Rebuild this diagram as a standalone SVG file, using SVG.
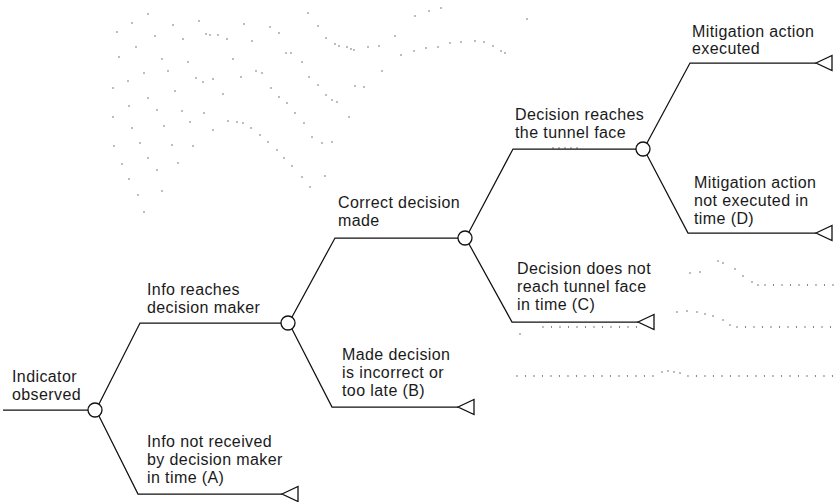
<svg xmlns="http://www.w3.org/2000/svg" width="837" height="502" viewBox="0 0 837 502">
  <style>
    .bg { fill: #ffffff; }
    .edge { fill: none; stroke: #111111; stroke-width: 1.25; stroke-linejoin: miter; }
    .chance { fill: #ffffff; stroke: #111111; stroke-width: 1.3; }
    .end { fill: #ffffff; stroke: #111111; stroke-width: 1.3; stroke-linejoin: miter; }
    .lbl { font-family: "Liberation Sans", Arial, Helvetica, sans-serif; font-size: 16px; letter-spacing: 0.4px; fill: #1a1a1a; }
    .speck { fill: none; stroke: #444444; stroke-width: 1.3; stroke-linecap: round; }
    .row { fill: none; stroke: #444444; stroke-width: 1.3; stroke-linecap: round; stroke-dasharray: 0 8.5; }
  </style>
  <defs>
    <!-- chance node and terminal marker shapes, positioned with <use> -->
    <circle id="chanceShape" cx="0" cy="0" r="7"/>
    <path id="endShape" d="M0 0 L16 -7.5 L16 7.5 Z"/>
  </defs>

  <rect class="bg" x="0" y="0" width="837" height="502"/>

  <!-- faint speckle traces in the paper -->
  <g id="speckle">
    <path class="speck" d="M117 32h0.01M132 23h0.01M148 14h0.01M173 25h0.01M199 21h0.01M206 34h0.01M210 35h0.01M218 35h0.01M227 39h0.01M244 24h0.01M252 41h0.01M270 27h0.01M279 33h0.01M286 53h0.01M291 53h0.01M302 62h0.01M308 13h0.01M318 26h0.01M326 38h0.01M335 44h0.01M339 46h0.01M347 47h0.01M351 49h0.01M354 50h0.01M368 47h0.01M379 46h0.01M395 36h0.01M401 55h0.01M414 51h0.01M415 16h0.01M426 48h0.01M429 11h0.01M438 47h0.01M441 8h0.01M450 43h0.01M461 42h0.01M475 41h0.01M484 42h0.01M493 46h0.01M501 51h0.01M505 53h0.01M527 19h0.01"/>
    <path class="speck" d="M119 57h0.01M136 47h0.01M155 36h0.01M162 59h0.01M183 39h0.01M188 62h0.01M168 71h0.01M144 73h0.01M128 81h0.01M113 88h0.01M148 98h0.01M175 91h0.01M196 78h0.01M203 82h0.01M213 79h0.01M223 94h0.01M233 59h0.01M241 77h0.01M256 71h0.01M262 73h0.01M271 88h0.01M279 97h0.01M287 103h0.01M295 113h0.01M304 123h0.01M312 137h0.01M322 143h0.01M332 142h0.01M309 77h0.01M318 85h0.01M326 95h0.01M332 100h0.01M337 102h0.01M349 117h0.01M355 86h0.01M364 87h0.01M382 71h0.01"/>
    <path class="speck" d="M129 106h0.01M157 110h0.01M182 111h0.01M113 117h0.01M132 128h0.01M164 126h0.01M190 122h0.01M204 113h0.01M213 130h0.01M228 121h0.01M237 122h0.01M243 123h0.01M251 128h0.01M260 135h0.01M268 142h0.01M277 150h0.01M284 158h0.01M292 166h0.01M302 177h0.01M310 187h0.01M325 176h0.01M114 146h0.01M140 143h0.01M172 145h0.01M193 146h0.01M148 158h0.01M178 163h0.01M122 164h0.01M157 170h0.01M129 179h0.01M162 191h0.01M138 195h0.01M144 212h0.01"/>
    <path class="speck" d="M690 273h0.01M700 272h0.01M718 261h0.01M723 263h0.01M735 269h0.01M743 276h0.01M752 282h0.01M758 285h0.01M677 312h0.01M687 311h0.01M697 312h0.01M705 314h0.01M713 316h0.01M723 320h0.01M730 325h0.01M520 334h0.01M553 148h0.01M559 148h0.01M565 148h0.01M571 148h0.01M577 148h0.01M662 372h0.01M668 371h0.01M674 372h0.01M680 373h0.01"/>
    <path class="row" d="M765 285 L837 285"/>
    <path class="row" d="M737 327 L837 327"/>
    <path class="row" d="M543 327 L640 327"/>
    <path class="row" d="M517 376 L655 376"/>
    <path class="row" d="M688 376 L837 376"/>
  </g>

  <!-- connectors -->
  <g id="connectors">
    <path class="edge" d="M3 410 L88 410"/>
    <path class="edge" d="M99 404 L140 323 L281 323"/>
    <path class="edge" d="M99 416 L138 494 L282 494"/>
    <path class="edge" d="M292 317 L335 238 L458 238"/>
    <path class="edge" d="M292 329 L332 407 L458 407"/>
    <path class="edge" d="M469 232 L513 149 L636 149"/>
    <path class="edge" d="M469 244 L512 322 L638 322"/>
    <path class="edge" d="M647 143 L690 63 L816 63"/>
    <path class="edge" d="M647 155 L688 233 L816 233"/>
  </g>

  <!-- start -->
  <g id="indicator-observed">
    <text class="lbl" x="12" y="382">Indicator</text>
    <text class="lbl" x="12" y="400">observed</text>
  </g>

  <!-- chance nodes -->
  <g id="node-indicator"><use href="#chanceShape" class="chance" x="95" y="410"/></g>
  <g id="node-info"><use href="#chanceShape" class="chance" x="288" y="323"/></g>
  <g id="node-decision"><use href="#chanceShape" class="chance" x="465" y="238"/></g>
  <g id="node-face"><use href="#chanceShape" class="chance" x="643" y="149"/></g>

  <!-- branch labels -->
  <g id="info-reaches">
    <text class="lbl" x="147" y="295">Info reaches</text>
    <text class="lbl" x="147" y="313">decision maker</text>
  </g>
  <g id="info-not-received">
    <text class="lbl" x="147" y="447">Info not received</text>
    <text class="lbl" x="147" y="465">by decision maker</text>
    <text class="lbl" x="147" y="483">in time (A)</text>
    <use href="#endShape" class="end" x="282" y="494"/>
  </g>
  <g id="correct-decision">
    <text class="lbl" x="338" y="208">Correct decision</text>
    <text class="lbl" x="338" y="226">made</text>
  </g>
  <g id="incorrect-decision">
    <text class="lbl" x="342" y="360">Made decision</text>
    <text class="lbl" x="342" y="378">is incorrect or</text>
    <text class="lbl" x="342" y="396">too late (B)</text>
    <use href="#endShape" class="end" x="458" y="407"/>
  </g>
  <g id="decision-reaches">
    <text class="lbl" x="515" y="120">Decision reaches</text>
    <text class="lbl" x="515" y="138">the tunnel face</text>
  </g>
  <g id="decision-not-reach">
    <text class="lbl" x="517" y="274">Decision does not</text>
    <text class="lbl" x="517" y="292">reach tunnel face</text>
    <text class="lbl" x="517" y="310">in time (C)</text>
    <use href="#endShape" class="end" x="638" y="322"/>
  </g>
  <g id="mitigation-executed">
    <text class="lbl" x="692" y="37">Mitigation action</text>
    <text class="lbl" x="692" y="54">executed</text>
    <use href="#endShape" class="end" x="816" y="63"/>
  </g>
  <g id="mitigation-not-executed">
    <text class="lbl" x="694" y="188">Mitigation action</text>
    <text class="lbl" x="694" y="206">not executed in</text>
    <text class="lbl" x="694" y="224">time (D)</text>
    <use href="#endShape" class="end" x="816" y="233"/>
  </g>
</svg>
